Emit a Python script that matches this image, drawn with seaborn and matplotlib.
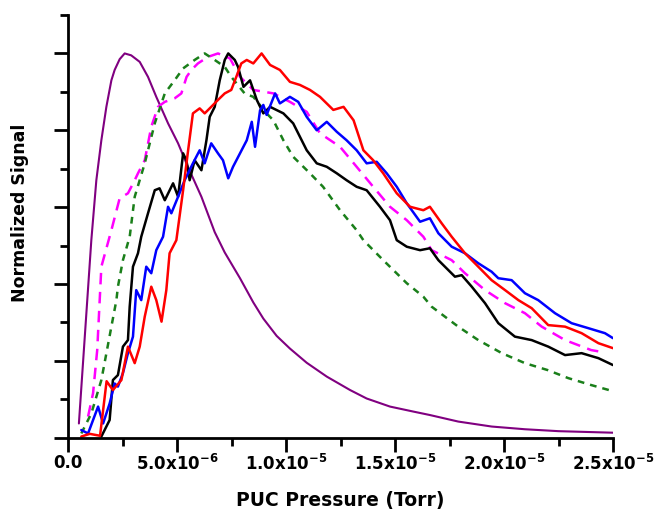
import matplotlib
matplotlib.use("Agg")
import matplotlib.pyplot as plt
import seaborn as sns
import pandas as pd
from matplotlib.ticker import MultipleLocator

# x values in units of 1e-6 Torr, y normalized signal
purple_x = [0.5, 1.07, 1.3, 1.53, 1.76, 1.99, 2.14, 2.37, 2.6, 2.9, 3.29, 3.67, 4.05, 4.59, 5.05, 5.5, 6.12, 6.73, 7.19, 7.89, 8.5, 8.96, 9.57, 10.18, 10.95, 11.87, 12.94, 13.7, 14.77, 15.84, 16.6, 17.9, 19.44, 20.96, 22.5, 25.0]
purple_y = [0.037, 0.514, 0.67, 0.774, 0.861, 0.93, 0.957, 0.985, 1.0, 0.995, 0.978, 0.939, 0.887, 0.818, 0.766, 0.705, 0.627, 0.535, 0.482, 0.415, 0.352, 0.31, 0.265, 0.232, 0.195, 0.159, 0.124, 0.102, 0.081, 0.068, 0.059, 0.042, 0.029, 0.022, 0.017, 0.013]

magenta_x = [0.92, 1.15, 1.34, 1.53, 1.99, 2.37, 2.75, 3.06, 3.21, 3.52, 3.82, 4.13, 4.44, 4.89, 5.2, 5.44, 5.66, 5.96, 6.42, 6.88, 7.43, 7.89, 8.5, 9.42, 10.18, 10.95, 11.56, 12.48, 13.24, 14.0, 14.77, 15.54, 16.3, 16.68, 17.6, 18.21, 19.13, 20.05, 20.96, 21.73, 22.8, 24.0, 24.4]
magenta_y = [0.055, 0.116, 0.228, 0.445, 0.54, 0.623, 0.636, 0.67, 0.688, 0.722, 0.809, 0.861, 0.874, 0.883, 0.896, 0.939, 0.957, 0.974, 0.991, 1.0, 0.987, 0.939, 0.905, 0.896, 0.874, 0.848, 0.792, 0.757, 0.705, 0.653, 0.601, 0.566, 0.523, 0.488, 0.462, 0.428, 0.384, 0.35, 0.324, 0.289, 0.254, 0.228, 0.224]

green_x = [0.61, 1.07, 1.53, 1.99, 2.22, 2.29, 2.52, 2.83, 3.06, 3.52, 3.98, 4.44, 4.89, 5.28, 5.81, 6.27, 6.73, 7.19, 7.49, 8.1, 8.5, 9.11, 9.42, 9.88, 10.33, 11.1, 11.7, 12.48, 13.24, 13.55, 14.46, 15.54, 16.3, 16.68, 17.9, 18.82, 19.9, 20.96, 22.0, 22.95, 24.0, 25.0]
green_y = [0.011, 0.063, 0.15, 0.289, 0.358, 0.393, 0.462, 0.523, 0.627, 0.714, 0.818, 0.896, 0.93, 0.961, 0.983, 1.0, 0.983, 0.965, 0.939, 0.896, 0.887, 0.844, 0.826, 0.774, 0.731, 0.688, 0.653, 0.592, 0.54, 0.514, 0.462, 0.402, 0.367, 0.341, 0.289, 0.254, 0.22, 0.194, 0.176, 0.155, 0.137, 0.121]

black_x = [1.53, 1.91, 2.06, 2.29, 2.52, 2.75, 2.83, 2.98, 3.21, 3.36, 3.67, 3.98, 4.2, 4.44, 4.82, 5.05, 5.28, 5.43, 5.58, 5.81, 6.12, 6.35, 6.5, 6.73, 6.96, 7.19, 7.35, 7.65, 7.8, 8.05, 8.35, 8.66, 8.96, 9.27, 9.88, 10.33, 10.95, 11.41, 11.87, 12.33, 12.78, 13.24, 13.7, 14.31, 14.77, 15.08, 15.54, 16.15, 16.6, 16.99, 17.75, 18.06, 18.52, 19.13, 19.74, 20.5, 21.27, 22.03, 22.8, 23.56, 24.33, 25.0]
black_y = [0.003, 0.046, 0.15, 0.163, 0.237, 0.254, 0.341, 0.445, 0.48, 0.523, 0.584, 0.644, 0.649, 0.618, 0.662, 0.627, 0.74, 0.722, 0.67, 0.722, 0.696, 0.774, 0.835, 0.861, 0.93, 0.983, 1.0, 0.983, 0.965, 0.913, 0.93, 0.879, 0.844, 0.861, 0.844, 0.818, 0.748, 0.714, 0.705, 0.688, 0.67, 0.653, 0.644, 0.601, 0.566, 0.514, 0.497, 0.488, 0.493, 0.462, 0.419, 0.423, 0.393, 0.35, 0.298, 0.263, 0.254, 0.237, 0.215, 0.22, 0.207, 0.189]

blue_x = [0.61, 0.92, 1.38, 1.61, 1.91, 2.14, 2.29, 2.52, 2.75, 2.98, 3.13, 3.36, 3.59, 3.82, 4.05, 4.36, 4.59, 4.74, 5.05, 5.35, 5.73, 6.04, 6.27, 6.57, 6.88, 7.11, 7.35, 7.57, 7.89, 8.2, 8.43, 8.58, 8.81, 8.96, 9.11, 9.5, 9.72, 10.18, 10.56, 10.95, 11.41, 11.87, 12.33, 12.78, 13.24, 13.7, 14.16, 14.62, 15.08, 15.54, 16.15, 16.6, 16.99, 17.6, 18.21, 18.82, 19.43, 19.74, 20.35, 20.96, 21.57, 22.34, 23.1, 23.87, 24.63, 25.0]
blue_y = [0.02, 0.011, 0.081, 0.037, 0.089, 0.141, 0.133, 0.168, 0.22, 0.263, 0.384, 0.358, 0.445, 0.428, 0.488, 0.523, 0.601, 0.584, 0.627, 0.67, 0.714, 0.748, 0.714, 0.766, 0.74, 0.722, 0.675, 0.705, 0.74, 0.774, 0.822, 0.757, 0.852, 0.866, 0.84, 0.896, 0.87, 0.887, 0.874, 0.835, 0.8, 0.822, 0.796, 0.774, 0.748, 0.714, 0.718, 0.688, 0.653, 0.61, 0.562, 0.571, 0.532, 0.497, 0.48, 0.454, 0.432, 0.415, 0.41, 0.376, 0.358, 0.324, 0.298, 0.285, 0.272, 0.259]

red_x = [0.61, 1.0, 1.47, 1.77, 2.06, 2.45, 2.75, 3.06, 3.29, 3.52, 3.82, 4.05, 4.29, 4.51, 4.66, 4.97, 5.28, 5.51, 5.73, 6.04, 6.27, 6.57, 6.88, 7.19, 7.49, 7.72, 7.95, 8.2, 8.5, 8.88, 9.27, 9.72, 10.18, 10.64, 11.1, 11.56, 12.17, 12.64, 13.1, 13.55, 14.0, 14.46, 15.08, 15.69, 16.3, 16.6, 17.14, 17.6, 18.21, 18.82, 19.43, 20.05, 20.66, 21.27, 22.03, 22.8, 23.56, 24.33, 25.0]
red_y = [0.003, 0.01, 0.005, 0.147, 0.124, 0.15, 0.237, 0.194, 0.237, 0.315, 0.393, 0.358, 0.302, 0.384, 0.48, 0.514, 0.644, 0.748, 0.844, 0.857, 0.844, 0.861, 0.879, 0.896, 0.905, 0.939, 0.974, 0.983, 0.974, 1.0, 0.97, 0.957, 0.926, 0.918, 0.905, 0.887, 0.853, 0.861, 0.826, 0.748, 0.722, 0.688, 0.636, 0.601, 0.592, 0.601, 0.558, 0.523, 0.48, 0.445, 0.41, 0.384, 0.358, 0.337, 0.293, 0.289, 0.272, 0.246, 0.233]

x_tick_values = [0, 5, 10, 15, 20, 25]
x_tick_labels = ["0.0", r"5.0x10$^{-6}$", r"1.0x10$^{-5}$", r"1.5x10$^{-5}$",
                 r"2.0x10$^{-5}$", r"2.5x10$^{-5}$"]

sns.set_theme(style="ticks")
plt.rcParams['font.family'] = ['DejaVu Sans']
plt.rcParams['mathtext.fontset'] = 'dejavusans'
plt.rcParams['mathtext.default'] = 'bf'
for k in ['text.color', 'axes.labelcolor', 'xtick.color', 'ytick.color', 'axes.edgecolor']:
    plt.rcParams[k] = 'black'

fig = plt.figure(figsize=(6.55, 5.11), dpi=100)
ax = fig.add_axes([68/655, 1 - 437.7/511, (613 - 68)/655, (437.7 - 15)/511])

series = [
    (purple_x, purple_y, "#800080", "-", 1.5),
    (magenta_x, magenta_y, "#ff00ff", (0, (4.6, 3.0)), 1.8),
    (green_x, green_y, "#1a7f1a", (0, (2.7, 2.4)), 1.8),
    (black_x, black_y, "black", "-", 1.8),
    (blue_x, blue_y, "#0000ff", "-", 1.8),
    (red_x, red_y, "#ff0000", "-", 1.8),
]
for xs, ys, col, ls, lw in series:
    df = pd.DataFrame({"x": xs, "y": ys})
    sns.lineplot(data=df, x="x", y="y", ax=ax, color=col, linewidth=lw,
                 linestyle=ls, sort=False, estimator=None)

ax.set_xlim(0, 25)
ax.set_ylim(0, 1.1)
ax.set_xticks(x_tick_values)
ax.set_xticklabels(x_tick_labels, fontsize=12, fontweight="bold", color="black")
ax.xaxis.set_minor_locator(MultipleLocator(2.5))
ax.yaxis.set_major_locator(MultipleLocator(0.2))
ax.yaxis.set_minor_locator(MultipleLocator(0.1))
ax.set_yticklabels([])
ax.tick_params(axis="both", which="major", direction="out", length=10, width=2, color="black")
ax.tick_params(axis="both", which="minor", direction="out", length=6, width=2, color="black")
ax.tick_params(axis="x", which="major", pad=1.5)
for s in ["top", "right"]:
    ax.spines[s].set_visible(False)
for s in ["left", "bottom"]:
    ax.spines[s].set_linewidth(2)
    ax.spines[s].set_color("black")

ax.set_xlabel("PUC Pressure (Torr)", fontsize=13.5, fontweight="bold", va="center", color="black")
ax.xaxis.set_label_coords(0.5, (437.7 - 500.5) / 422.7)
ax.set_ylabel("Normalized Signal", fontsize=12.5, fontweight="bold", va="center", color="black")
ax.yaxis.set_label_coords((20.5 - 68) / 545, (437.7 - 212.5) / 422.7)

fig.savefig("out.png", dpi=100)
